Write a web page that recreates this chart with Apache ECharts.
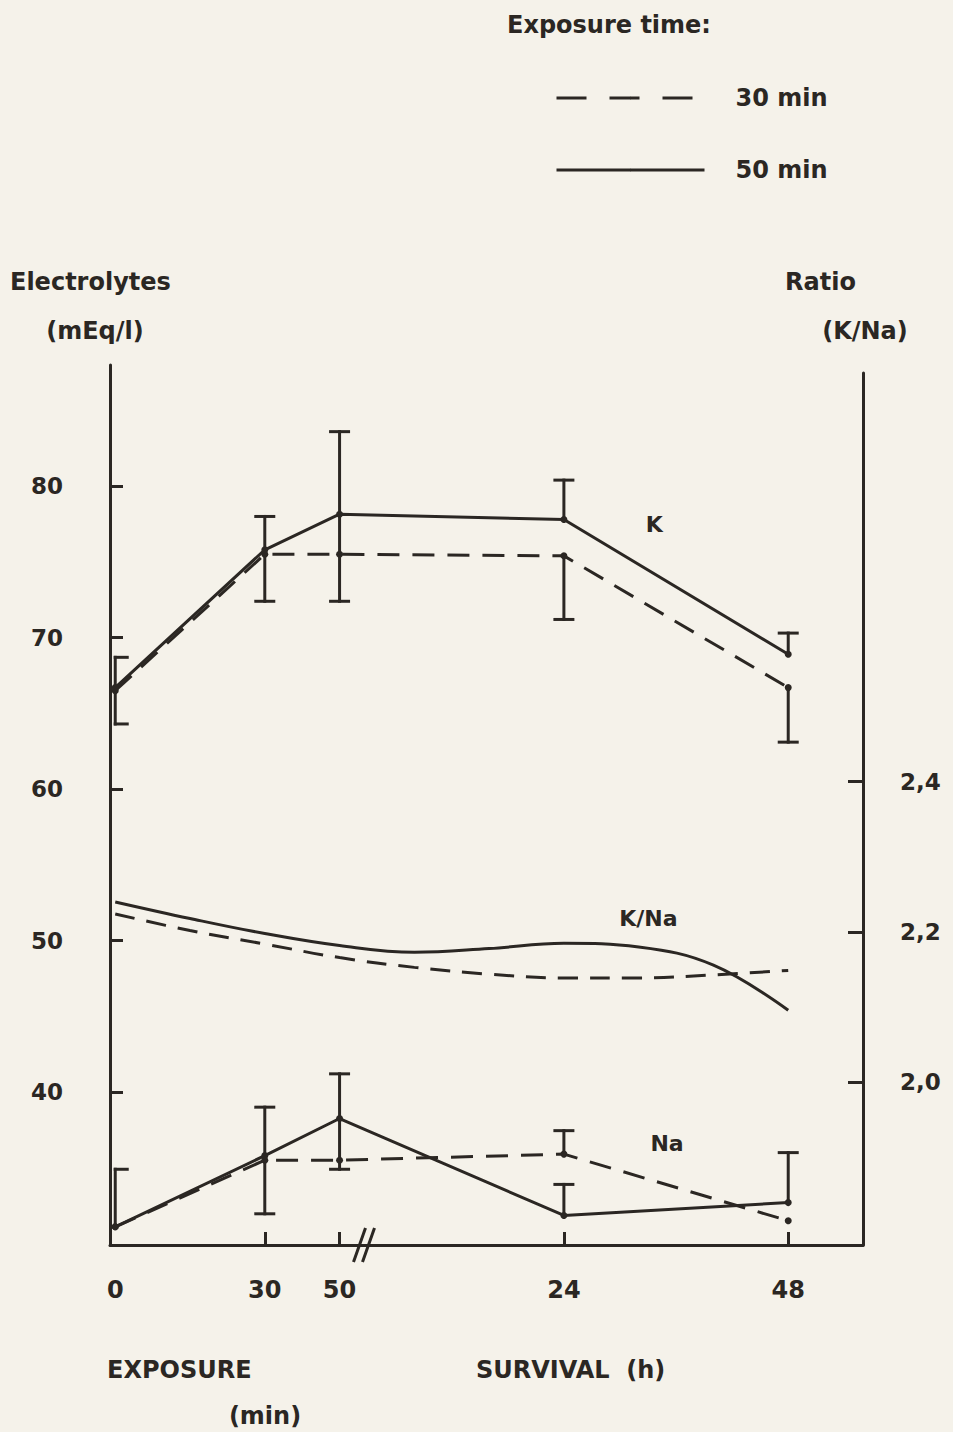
<!DOCTYPE html>
<html>
<head>
<meta charset="utf-8">
<script src="https://cdn.jsdelivr.net/npm/echarts@6/dist/echarts.min.js"></script>
<style>
  html, body { margin: 0; padding: 0; background: #f5f2ea; }
  #chart { width: 953px; height: 1432px; }
</style>
</head>
<body>
<div id="chart"></div>
<script>
// Schematic time axis: slot positions of the sampling times and their labels
const timeSlots = [0, 2, 3, 6, 9];
const timeLabels = ['0', '30', '50', '24', '48'];
const timeTickSlots = [2, 3, 6, 9];
const breakSlot = 3.32;

// Potassium (mEq/l), exposure 30 min and 50 min, with error-bar ends
const k30 = [66.5, 75.5, 75.5, 75.4, 66.7];
const k30Low = [null, null, null, 71.2, 63.1];
const k30High = [null, null, null, null, null];
const k50 = [66.7, 75.8, 78.15, 77.8, 68.9];
const k50Low = [64.3, 72.4, 72.4, null, null];
const k50High = [68.7, 78.0, 83.6, 80.4, 70.3];

// Sodium (mEq/l)
const na30 = [31.1, 35.5, 35.5, 35.9, 31.5];
const na30Low = [null, null, null, null, null];
const na30High = [null, null, null, 37.45, null];
const na50 = [31.1, 35.8, 38.25, 31.85, 32.7];
const na50Low = [null, 31.96, 34.9, null, null];
const na50High = [34.9, 39.0, 41.2, 33.9, 36.0];

// K/Na ratio trend curves
const ratioSlots = [0, 1, 2, 3, 4, 5, 6, 7, 8, 9];
const ratio30 = [2.224, 2.202, 2.184, 2.166, 2.153, 2.144, 2.139, 2.139, 2.143, 2.149];
const ratio50 = [2.240, 2.218, 2.198, 2.182, 2.173, 2.178, 2.185, 2.180, 2.156, 2.096];

// Axis ticks
const electrolyteTicks = [40, 50, 60, 70, 80];
const ratioTicks = [2.0, 2.2, 2.4];

// Curve name tags
const electrolyteTags = [
  { name: 'K', value: [7.21, 77.45] },
  { name: 'Na', value: [7.38, 36.6] }
];
const ratioTags = [
  { name: 'K/Na', value: [7.13, 2.218] }
];

const ink = '#2b2723';
const FONT = '"DejaVu Sans", "Liberation Sans", sans-serif';
const dash30 = [22, 13];
const dashRatio = [20, 12];

function pairs(xs, ys) { return xs.map((x, i) => [x, ys[i]]); }

function errData(means, lows, highs) {
  return timeSlots.map((x, i) => [
    x, means[i],
    lows[i] != null ? lows[i] : means[i],
    highs[i] != null ? highs[i] : means[i],
    lows[i] != null ? 1 : 0,
    highs[i] != null ? 1 : 0,
    i === 0 ? 1 : 0
  ]).filter(d => d[4] || d[5]);
}

function renderErrorBar(params, api) {
  const x = api.value(0);
  const p0 = api.coord([x, api.value(2)]);
  const p1 = api.coord([x, api.value(3)]);
  const bracket = api.value(6) === 1;
  const l = bracket ? 0 : 9, r = bracket ? 12 : 9;
  const style = { stroke: ink, lineWidth: 3, lineCap: 'square' };
  const kids = [{ type: 'line', shape: { x1: p0[0], y1: p0[1], x2: p1[0], y2: p1[1] }, style }];
  if (api.value(4) === 1) kids.push({ type: 'line', shape: { x1: p0[0] - l, y1: p0[1], x2: p0[0] + r, y2: p0[1] }, style });
  if (api.value(5) === 1) kids.push({ type: 'line', shape: { x1: p1[0] - l, y1: p1[1], x2: p1[0] + r, y2: p1[1] }, style });
  return { type: 'group', children: kids };
}

function renderBreak(params, api) {
  const cs = params.coordSys;
  const cx = api.coord([api.value(0), api.value(1)])[0];
  const cy = cs.y + cs.height;
  const style = { stroke: ink, lineWidth: 3 };
  return {
    type: 'group',
    children: [-4, 5].map(off => ({
      type: 'line',
      shape: { x1: cx + off - 6, y1: cy + 17, x2: cx + off + 6, y2: cy - 17 },
      style
    }))
  };
}

function lineSeries(name, data, dashed, yIdx, withSymbol, dashPattern) {
  return {
    type: 'line', name, data,
    xAxisIndex: yIdx, yAxisIndex: yIdx,
    smooth: yIdx === 1 ? 0.4 : false,
    symbol: withSymbol ? 'circle' : 'none',
    symbolSize: 7,
    itemStyle: { color: ink },
    lineStyle: { color: ink, width: 3, type: dashed ? dashPattern : 'solid' },
    emphasis: { disabled: true },
    silent: true,
    z: 3
  };
}

function errSeries(data) {
  return {
    type: 'custom', renderItem: renderErrorBar, data,
    xAxisIndex: 0, yAxisIndex: 0,
    encode: { x: 0, y: 1 }, silent: true, z: 2
  };
}

function tagSeries(data, idx) {
  return {
    type: 'scatter', data, xAxisIndex: idx, yAxisIndex: idx,
    symbolSize: 1, silent: true,
    itemStyle: { opacity: 0 },
    emphasis: { disabled: true },
    label: {
      show: true, position: 'inside', formatter: '{b}',
      color: ink, opacity: 1, fontFamily: FONT, fontWeight: 'bold', fontSize: 22
    },
    z: 5
  };
}

const axisText = { color: ink, fontFamily: FONT, fontWeight: 'bold', fontSize: 23 };

const chart = echarts.init(document.getElementById('chart'), null, { renderer: 'svg' });

chart.setOption({
  backgroundColor: '#f5f2ea',
  animation: false,
  legend: {
    orient: 'vertical', left: 555, top: 86, padding: 0,
    itemWidth: 148, itemHeight: 3, itemGap: 48,
    selectedMode: false,
    textStyle: { color: ink, fontFamily: FONT, fontWeight: 'bold', fontSize: 24, padding: [0, 0, 0, 26] },
    data: [
      { name: '30 min', lineStyle: { type: [30, 23], width: 3, color: ink } },
      { name: '50 min', lineStyle: { type: 'solid', width: 3, color: ink } }
    ]
  },
  grid: [
    { left: 110, right: 90, top: 365, bottom: 187, outerBoundsMode: 'none' },
    { left: 110, right: 90, top: 373, bottom: 187, outerBoundsMode: 'none' }
  ],
  xAxis: [
    {
      type: 'value', gridIndex: 0, min: -0.07, max: 10,
      splitLine: { show: false },
      axisLine: { show: true, onZero: false, lineStyle: { color: ink, width: 3 } },
      axisTick: { show: true, inside: true, length: 13, lineStyle: { color: ink, width: 3 }, customValues: timeTickSlots },
      axisLabel: {
        ...axisText, fontSize: 24, margin: 33,
        customValues: timeSlots,
        formatter: v => timeLabels[timeSlots.indexOf(v)] ?? ''
      }
    },
    {
      type: 'value', gridIndex: 1, min: -0.07, max: 10, show: false
    }
  ],
  yAxis: [
    {
      type: 'value', gridIndex: 0, min: 29.9, max: 88,
      splitLine: { show: false },
      axisLine: { show: true, onZero: false, lineStyle: { color: ink, width: 3 } },
      axisTick: { show: true, inside: true, length: 13, lineStyle: { color: ink, width: 3 }, customValues: electrolyteTicks },
      axisLabel: { ...axisText, margin: 47, customValues: electrolyteTicks }
    },
    {
      type: 'value', gridIndex: 1, position: 'right', min: 1.784, max: 2.943,
      splitLine: { show: false },
      axisLine: { show: true, onZero: false, lineStyle: { color: ink, width: 3 } },
      axisTick: { show: true, inside: true, length: 15, lineStyle: { color: ink, width: 3 }, customValues: ratioTicks },
      axisLabel: {
        ...axisText, margin: 37, customValues: ratioTicks,
        formatter: v => v.toFixed(1).replace('.', ',')
      }
    }
  ],
  series: [
    lineSeries('30 min', pairs(ratioSlots, ratio30), true, 1, false, dashRatio),
    lineSeries('50 min', pairs(ratioSlots, ratio50), false, 1, false),
    lineSeries('30 min', pairs(timeSlots, k30), true, 0, true, dash30),
    lineSeries('50 min', pairs(timeSlots, k50), false, 0, true),
    lineSeries('30 min', pairs(timeSlots, na30), true, 0, true, dash30),
    lineSeries('50 min', pairs(timeSlots, na50), false, 0, true),
    errSeries(errData(k30, k30Low, k30High)),
    errSeries(errData(k50, k50Low, k50High)),
    errSeries(errData(na30, na30Low, na30High)),
    errSeries(errData(na50, na50Low, na50High)),
    {
      type: 'custom', renderItem: renderBreak, data: [[breakSlot, 29.9]],
      xAxisIndex: 0, yAxisIndex: 0, silent: true, z: 4, clip: false
    },
    tagSeries(electrolyteTags, 0),
    tagSeries(ratioTags, 1)
  ],
  graphic: [
    { type: 'text', x: 507, y: 25, style: { text: 'Exposure time:', font: 'bold 24px ' + FONT, fill: ink, align: 'left', verticalAlign: 'middle' } },
    { type: 'text', x: 10, y: 282, style: { text: 'Electrolytes', font: 'bold 24px ' + FONT, fill: ink, align: 'left', verticalAlign: 'middle' } },
    { type: 'text', x: 95, y: 331, style: { text: '(mEq/l)', font: 'bold 24px ' + FONT, fill: ink, align: 'center', verticalAlign: 'middle' } },
    { type: 'text', x: 785, y: 282, style: { text: 'Ratio', font: 'bold 24px ' + FONT, fill: ink, align: 'left', verticalAlign: 'middle' } },
    { type: 'text', x: 865, y: 331, style: { text: '(K/Na)', font: 'bold 24px ' + FONT, fill: ink, align: 'center', verticalAlign: 'middle' } },
    { type: 'text', x: 107, y: 1370, style: { text: 'EXPOSURE', font: 'bold 24px ' + FONT, fill: ink, align: 'left', verticalAlign: 'middle' } },
    { type: 'text', x: 265, y: 1416, style: { text: '(min)', font: 'bold 24px ' + FONT, fill: ink, align: 'center', verticalAlign: 'middle' } },
    { type: 'text', x: 476, y: 1370, style: { text: 'SURVIVAL  (h)', font: 'bold 24px ' + FONT, fill: ink, align: 'left', verticalAlign: 'middle' } }
  ]
});
</script>
</body>
</html>
